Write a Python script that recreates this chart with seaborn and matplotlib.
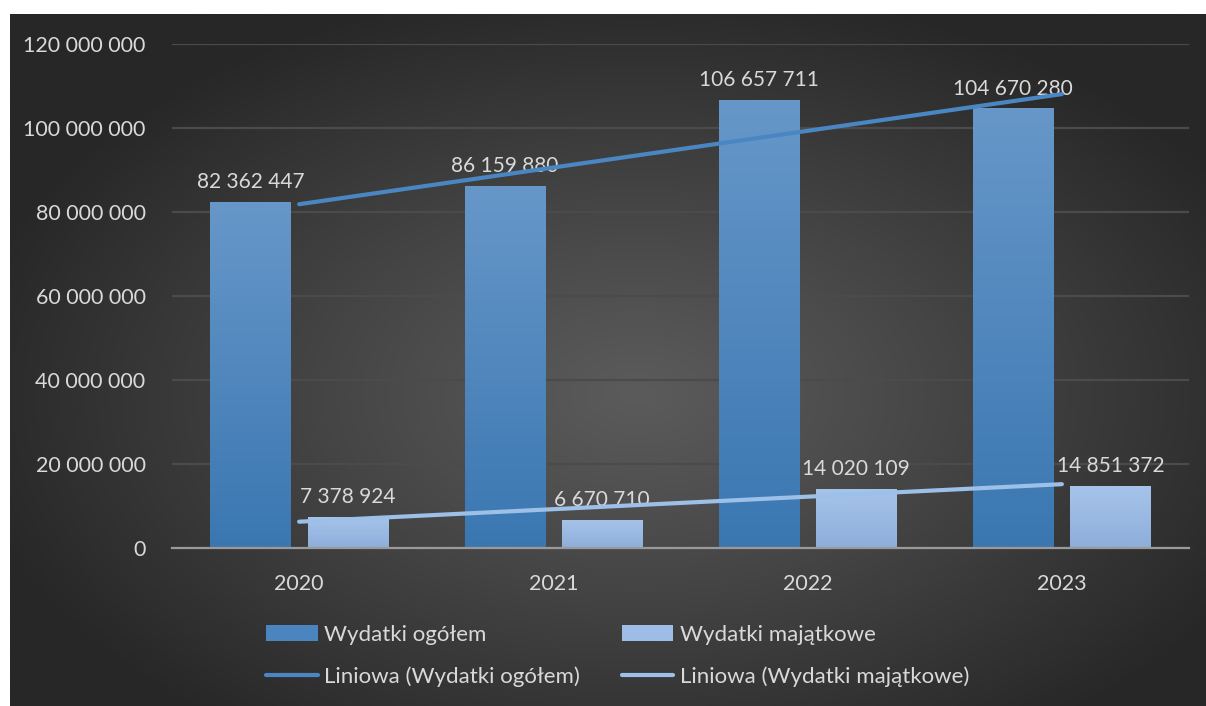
import matplotlib.pyplot as plt
import numpy as np
import pandas as pd
import seaborn as sns
from matplotlib.lines import Line2D
from matplotlib.patches import Patch

# -------------------------------------------------
# Data
# -------------------------------------------------

years = ["2020", "2021", "2022", "2023"]
wydatki_ogolem = [82362447, 86159880, 106657711, 104670280]
wydatki_majatkowe = [7378924, 6670710, 14020109, 14851372]
series_names = ["Wydatki ogółem", "Wydatki majątkowe"]
trend_names = ["Liniowa (Wydatki ogółem)", "Liniowa (Wydatki majątkowe)"]
y_ticks = [0, 20000000, 40000000, 60000000, 80000000, 100000000, 120000000]

sns.set_theme(style="dark")
plt.rcParams["font.family"] = ["Lato", "DejaVu Sans"]

TEXT = "#d9d9d9"
BAR_COLORS = {
    "Wydatki ogółem": ("#6797c9", "#3a77b1"),
    "Wydatki majątkowe": ("#a6c4ea", "#8eaedb"),
}
LINE_COLORS = ["#4a86c2", "#9dc0e8"]


def fmt(v):
    return f"{int(v):,}".replace(",", " ")


df = pd.DataFrame({
    "Rok": years * 2,
    "Kwota": wydatki_ogolem + wydatki_majatkowe,
    "Seria": [series_names[0]] * len(years) + [series_names[1]] * len(years),
})

fig = plt.figure(figsize=(12.06, 7.06), dpi=100, facecolor="white")

# -------------------------------------------------
# Dark radial background
# -------------------------------------------------

bg_ax = fig.add_axes([10 / 1206, 0, 1196 / 1206, 692 / 706], zorder=-10)
gx, gy = np.meshgrid(np.linspace(-1, 1, 400), np.linspace(-1, 1, 240))
r = np.sqrt(((gx - 0.05) / 1.0) ** 2 + ((gy - 0.1) / 1.05) ** 2)
r = np.clip(r / 1.15, 0, 1)
shade = 0x5b + (0x27 - 0x5b) * r ** 1.1
bg = np.dstack([shade, shade, shade]) / 255
bg_ax.imshow(bg, aspect="auto", extent=(0, 1, 0, 1), interpolation="bilinear")
bg_ax.axis("off")

# -------------------------------------------------
# Bars
# -------------------------------------------------

ax = fig.add_axes([172 / 1206, 1 - 548 / 706, 1017 / 1206, 504 / 706])
ax.set_facecolor("none")

sns.barplot(
    data=df,
    x="Rok",
    y="Kwota",
    hue="Seria",
    hue_order=series_names,
    width=0.764,
    gap=0.175,
    ax=ax,
    legend=False,
    zorder=3,
)

ax.set_ylim(0, 120000000)
ax.set_xlim(-0.5, 3.5)

# vertical gradients clipped to each bar
for container, name in zip(ax.containers, series_names):
    top_c, bot_c = BAR_COLORS[name]
    top_rgb = np.array(plt.matplotlib.colors.to_rgb(top_c))
    bot_rgb = np.array(plt.matplotlib.colors.to_rgb(bot_c))
    t = np.linspace(0, 1, 100)[:, None]
    grad = (top_rgb * (1 - t) + bot_rgb * t)[:, None, :]
    for bar in container:
        bar.set_facecolor("none")
        bar.set_edgecolor("none")
        x0, w = bar.get_x(), bar.get_width()
        h = bar.get_height()
        im = ax.imshow(grad, aspect="auto", extent=(x0, x0 + w, 0, h),
                       zorder=3, interpolation="bilinear")
        im.set_clip_path(bar)
    ax.bar_label(container, labels=[fmt(v) for v in container.datavalues],
                 padding=7, color=TEXT, fontsize=15)

ax.set_xlim(-0.5, 3.5)
ax.set_ylim(0, 120000000)

# -------------------------------------------------
# Linear trend lines
# -------------------------------------------------

xpos = np.arange(len(years))
for values, color in zip([wydatki_ogolem, wydatki_majatkowe], LINE_COLORS):
    slope, intercept = np.polyfit(xpos + 1, values, 1)
    ax.plot(xpos, slope * (xpos + 1) + intercept, color=color, lw=3,
            solid_capstyle="round", zorder=5)

# -------------------------------------------------
# Axes styling
# -------------------------------------------------

ax.set_yticks(y_ticks)
ax.set_yticklabels([fmt(v) for v in y_ticks])
ax.yaxis.grid(True, color="#4b4b4b", lw=1.6)
ax.xaxis.grid(False)
ax.set_axisbelow(True)
ax.tick_params(axis="y", length=0, pad=19, labelcolor=TEXT, labelsize=15.5)
ax.tick_params(axis="x", length=0, pad=19, labelcolor=TEXT, labelsize=15.5)
ax.set_xlabel("")
ax.set_ylabel("")
for side in ["top", "left", "right"]:
    ax.spines[side].set_visible(False)
ax.spines["bottom"].set_color("#9a9a9a")
ax.spines["bottom"].set_linewidth(1.6)
ax.spines["bottom"].set_zorder(6)

# -------------------------------------------------
# Legend
# -------------------------------------------------

handles = [
    Patch(facecolor="#4a85c0", edgecolor="none"),
    Line2D([], [], color=LINE_COLORS[0], lw=3),
    Patch(facecolor="#9dbce6", edgecolor="none"),
    Line2D([], [], color=LINE_COLORS[1], lw=3),
]
labels = [series_names[0], trend_names[0], series_names[1], trend_names[1]]
leg = fig.legend(
    handles, labels,
    ncol=2,
    loc="center",
    bbox_to_anchor=(618 / 1206, 1 - 656 / 706),
    frameon=False,
    fontsize=16,
    handlelength=2.3,
    handleheight=0.75,
    handletextpad=0.3,
    columnspacing=1.9,
    labelspacing=1.0,
)
for txt in leg.get_texts():
    txt.set_color(TEXT)

fig.savefig("out.png", dpi=100, facecolor="white")
plt.close(fig)
